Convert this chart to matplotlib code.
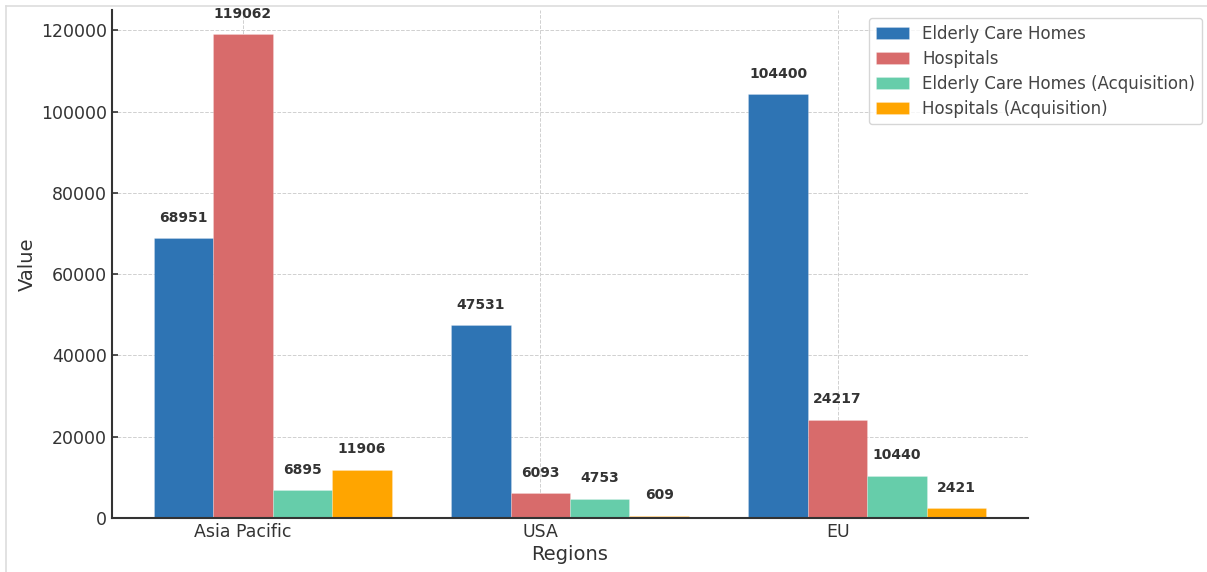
import numpy as np
import matplotlib.pyplot as plt
from matplotlib.lines import Line2D

# Regional counts of facilities and acquisitions
regions = ['Asia Pacific', 'USA', 'EU']
series_names = ['Elderly Care Homes', 'Hospitals',
                'Elderly Care Homes (Acquisition)', 'Hospitals (Acquisition)']
elderly_care = [68951, 47531, 104400]
hospitals = [119062, 6093, 24217]
elderly_acq = [6895, 4753, 10440]
hospitals_acq = [11906, 609, 2421]

colors = ['#2e74b4', '#d86b6b', '#66cdaa', '#ffa500']
text_color = '#333333'

fig = plt.figure(figsize=(12.07, 5.72), dpi=100)
ax = fig.add_axes([0.0928, 0.0944, 0.7589, 0.8881])

x = np.arange(len(regions))
width = 0.2
all_series = [elderly_care, hospitals, elderly_acq, hospitals_acq]

for j, (name, vals, col) in enumerate(zip(series_names, all_series, colors)):
    bars = ax.bar(x + (j - 1) * width, vals, width, label=name, color=col,
                  edgecolor=(1, 1, 1, 0.3), linewidth=0.5, zorder=2)
    for b, v in zip(bars, vals):
        ax.annotate(f'{v}', (b.get_x() + b.get_width() / 2, v),
                    xytext=(0, 9.5), textcoords='offset points',
                    ha='center', va='bottom', fontsize=10,
                    fontweight='bold', color=text_color)

## Axis
ax.set_xticks(x)
ax.set_xticklabels(regions)
ax.set_xlabel('Regions', fontsize=14, color=text_color, labelpad=3)
ax.set_ylabel('Value', fontsize=14, color=text_color, labelpad=3)
ax.tick_params(axis='both', labelsize=12.5, colors=text_color,
               direction='in', length=4, width=1.2)

## Lines
ax.spines['top'].set_visible(False)
ax.spines['right'].set_visible(False)
for side in ['left', 'bottom']:
    ax.spines[side].set_color(text_color)
    ax.spines[side].set_linewidth(1.5)

ax.grid(True, linestyle='--', linewidth=0.7, color='#d0d0d0', zorder=0)
ax.set_axisbelow(True)

## Legend
leg = ax.legend(fontsize=12, loc='upper right',
                bbox_to_anchor=(1202 / 1207, 1 - 18 / 572),
                bbox_transform=fig.transFigure, borderaxespad=0,
                frameon=True, labelspacing=0.42)
leg.get_frame().set_edgecolor('#cccccc')
for t in leg.get_texts():
    t.set_color('#444444')

# thin frame along the top and left figure edges
fig.add_artist(Line2D([0.005, 0.005], [0, 0.99], color='#dddddd', lw=1.2,
                      transform=fig.transFigure))
fig.add_artist(Line2D([0.005, 1], [0.99, 0.99], color='#dddddd', lw=1.2,
                      transform=fig.transFigure))

fig.savefig('out.png', dpi=100)
